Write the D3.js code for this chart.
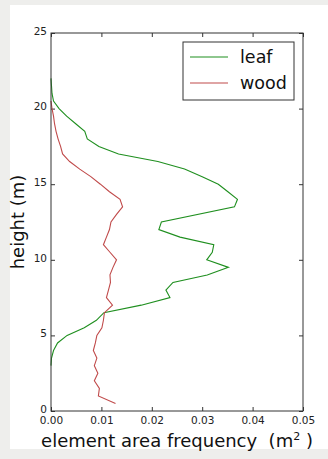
<!DOCTYPE html>
<html>
<head>
<meta charset="utf-8">
<script src="https://cdn.jsdelivr.net/npm/d3@7"></script>
<style>
  html, body { margin: 0; padding: 0; background: #eeeeec; }
  svg { display: block; font-family: "DejaVu Sans", sans-serif; }
</style>
</head>
<body>
<svg id="chart" width="328" height="459"></svg>
<script>
// heights (m) and element area frequency (m^2)
const leafHeight = [22.0, 21.5, 21.0, 20.5, 20.0, 19.5, 19.0, 18.5, 18.0, 17.5, 17.0, 16.5, 16.0, 15.5, 15.0, 14.5, 14.0, 13.5, 12.5, 12.0, 11.5, 11.0, 10.5, 10.0, 9.5, 9.0, 8.5, 8.0, 7.5, 7.0, 6.5, 6.0, 5.5, 5.0, 4.5, 4.0, 3.5, 3.0];
const leafValue = [0.0000, 0.0001, 0.0002, 0.0005, 0.0016, 0.0031, 0.0049, 0.0067, 0.0072, 0.0095, 0.0134, 0.0212, 0.0265, 0.0300, 0.0332, 0.0351, 0.0370, 0.0364, 0.0219, 0.0214, 0.0256, 0.0323, 0.0320, 0.0309, 0.0352, 0.0310, 0.0242, 0.0228, 0.0236, 0.0179, 0.0105, 0.0090, 0.0066, 0.0032, 0.0013, 0.0005, 0.0001, 0.0000];

const woodHeight = [20.5, 20.0, 19.5, 19.0, 18.5, 18.0, 17.5, 17.0, 16.5, 16.0, 15.5, 15.0, 14.5, 14.0, 13.5, 13.0, 12.5, 12.0, 11.5, 11.0, 10.5, 10.0, 9.5, 9.0, 8.5, 8.0, 7.5, 7.0, 6.5, 6.0, 5.5, 5.0, 4.5, 4.0, 3.5, 3.0, 2.5, 2.0, 1.5, 1.0, 0.5];
const woodValue = [0.0000, 0.0002, 0.0005, 0.0007, 0.0010, 0.0014, 0.0019, 0.0023, 0.0037, 0.0057, 0.0079, 0.0098, 0.0116, 0.0137, 0.0142, 0.0130, 0.0119, 0.0116, 0.0110, 0.0104, 0.0117, 0.0130, 0.0123, 0.0117, 0.0118, 0.0114, 0.0110, 0.0122, 0.0106, 0.0104, 0.0101, 0.0091, 0.0088, 0.0084, 0.0091, 0.0086, 0.0093, 0.0086, 0.0096, 0.0094, 0.0128];

const xTicks = [0, 0.01, 0.02, 0.03, 0.04, 0.05];
const yTicks = [0, 5, 10, 15, 20, 25];
const seriesNames = ['leaf', 'wood'];
const seriesColors = ['#1f8f1f', '#c04a4a'];

const svg = d3.select('#chart');

// white figure panel
svg.append('rect')
    .attr('x', 10).attr('y', 5)
    .attr('width', 318).attr('height', 444)
    .attr('fill', '#ffffff');

const x = d3.scaleLinear().domain([0, 0.05]).range([51, 303]);
const y = d3.scaleLinear().domain([0, 25]).range([411, 33]);

const line = d3.line()
    .x(d => x(d[1]))
    .y(d => y(d[0]));

const leaf = leafHeight.map((h, i) => [h, leafValue[i]]);
const wood = woodHeight.map((h, i) => [h, woodValue[i]]);

// axes, ticks pointing inward like matplotlib classic
const styleAxis = g => {
    g.select('.domain').remove();
    g.selectAll('.tick line').attr('stroke', '#333');
    g.selectAll('.tick text').attr('fill', '#222').style('font-size', '10.5px').style('font-family', '"DejaVu Sans", sans-serif');
};

svg.append('g')
    .attr('transform', `translate(0,${y(0)})`)
    .call(d3.axisBottom(x).tickValues(xTicks).tickFormat(d3.format('.2f')).tickSize(-4).tickPadding(6))
    .call(styleAxis);

svg.append('g')
    .attr('transform', `translate(${x(0)},0)`)
    .call(d3.axisLeft(y).tickValues(yTicks).tickFormat(d3.format('d')).tickSize(-4).tickPadding(4))
    .call(styleAxis)
    .call(g => g.selectAll('.tick text').attr('dy', '0.12em'));

svg.append('g')
    .attr('transform', `translate(0,${y(25)})`)
    .call(d3.axisTop(x).tickValues(xTicks).tickFormat('').tickSize(-4))
    .call(styleAxis);

svg.append('g')
    .attr('transform', `translate(${x(0.05)},0)`)
    .call(d3.axisRight(y).tickValues(yTicks).tickFormat('').tickSize(-4))
    .call(styleAxis);

// data lines
svg.append('path')
    .datum(leaf)
    .attr('d', line)
    .attr('fill', 'none')
    .attr('stroke', seriesColors[0])
    .attr('stroke-width', 1.1);

svg.append('path')
    .datum(wood)
    .attr('d', line)
    .attr('fill', 'none')
    .attr('stroke', seriesColors[1])
    .attr('stroke-width', 1.1);

// frame
svg.append('rect')
    .attr('x', x(0)).attr('y', y(25))
    .attr('width', x(0.05) - x(0)).attr('height', y(0) - y(25))
    .attr('fill', 'none')
    .attr('stroke', '#333')
    .attr('stroke-width', 1);

// legend
const legend = svg.append('g').attr('transform', 'translate(183,42)');
legend.append('rect')
    .attr('width', 111).attr('height', 58)
    .attr('fill', '#fff')
    .attr('stroke', '#333')
    .attr('stroke-width', 1);

seriesNames.forEach((name, i) => {
    const g = legend.append('g').attr('transform', `translate(0, ${15 + i * 26})`);
    g.append('line')
        .attr('x1', 7).attr('x2', 45)
        .attr('stroke', seriesColors[i])
        .attr('stroke-width', 1.1);
    g.append('text')
        .attr('x', 57).attr('y', 6)
        .attr('fill', '#111')
        .style('font-size', '17.5px')
        .text(name);
});

// axis labels
const xLabel = svg.append('text')
    .attr('x', (x(0) + x(0.05)) / 2)
    .attr('y', 447)
    .attr('text-anchor', 'middle')
    .attr('fill', '#111')
    .style('white-space', 'pre')
    .style('font-size', '18px');
xLabel.append('tspan').text('element area frequency  (m');
xLabel.append('tspan').attr('dy', -7).style('font-size', '11px').text('2');
xLabel.append('tspan').attr('dy', 7).text(' )');

svg.append('text')
    .attr('transform', `translate(24,${(y(0) + y(25)) / 2}) rotate(-90)`)
    .attr('text-anchor', 'middle')
    .attr('fill', '#111')
    .style('font-size', '18px')
    .text('height (m)');
</script>
</body>
</html>
